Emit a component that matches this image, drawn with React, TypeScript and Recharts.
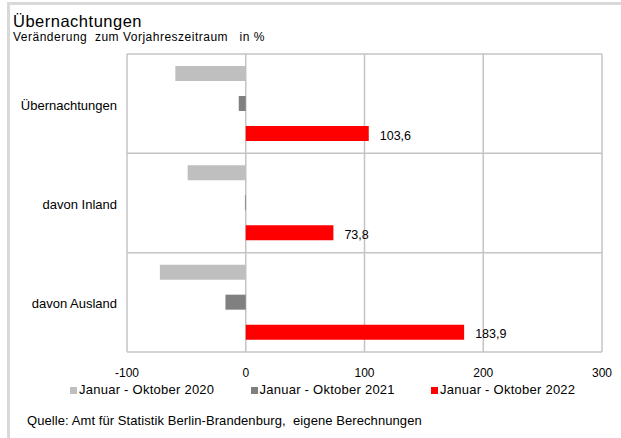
import { Bar, BarChart, CartesianGrid, LabelList, Legend, XAxis, YAxis } from "recharts";

const CATEGORIES = ["Übernachtungen", "davon Inland", "davon Ausland"];
const SERIES_NAMES = ["Januar - Oktober 2020", "Januar - Oktober 2021", "Januar - Oktober 2022"];
const JAN_OKT_2020 = [-59.3, -48.9, -72.3];
const JAN_OKT_2021 = [-5.9, -0.7, -17.1];
const JAN_OKT_2022 = [103.6, 73.8, 183.9];
const X_TICKS = [-100, 0, 100, 200, 300];

const COLORS = ["#bfbfbf", "#808080", "#ff0000"];
const GRID = "#c4c4c4";
const FONT = '"Liberation Sans", Arial, sans-serif';

const data = CATEGORIES.map((name, i) => ({
  name,
  y2020: JAN_OKT_2020[i],
  y2021: JAN_OKT_2021[i],
  y2022: JAN_OKT_2022[i],
}));

const fmt = (v: number) => String(v).replace(".", ",");

function LegendRow({ payload }: any) {
  return (
    <div style={{ display: "flex", paddingLeft: 70, fontSize: 13, lineHeight: "16px", letterSpacing: 0.25, color: "#000" }}>
      {(payload ?? []).map((p: any) => (
        <div key={p.value} style={{ display: "flex", alignItems: "center", width: 180.5, flex: "none" }}>
          <span style={{ width: 7, height: 7, background: p.color, marginRight: 2 }} />
          <span>{p.value}</span>
        </div>
      ))}
    </div>
  );
}

function CategoryTick({ x, y, payload }: any) {
  return (
    <text x={x} y={y + 1.5} textAnchor="end" dominantBaseline="central" fontSize={13} fill="#000">
      {payload.value}
    </text>
  );
}

function ValueLabel({ x, y, width, height, value }: any) {
  return (
    <text x={x + width + 11} y={y + height / 2 + 2} dominantBaseline="central" fontSize={12.5} fill="#000">
      {fmt(value)}
    </text>
  );
}

export default function App() {
  return (
    <div style={{ position: "absolute", left: 0, top: 0, width: 621, height: 438, background: "#fff", fontFamily: FONT, color: "#000", overflow: "hidden" }}>
      {/* grauer Rahmen oben/links */}
      <div style={{ position: "absolute", left: 7, top: 2, width: 620, height: 440, borderTop: "3px solid #d9d9d9", borderLeft: "3px solid #d9d9d9" }} />
      <div style={{ position: "absolute", left: 13, top: 10.8, fontSize: 16.5, lineHeight: "20px", letterSpacing: 0.5 }}>
        Übernachtungen
      </div>
      <div style={{ position: "absolute", left: 13, top: 29.5, fontSize: 12, lineHeight: "14px", letterSpacing: 0.5, whiteSpace: "pre" }}>
        {"Veränderung  zum Vorjahreszeitraum   in %"}
      </div>
      <div style={{ position: "absolute", left: 0, top: 0 }}>
        <BarChart
          width={621}
          height={438}
          data={data}
          layout="vertical"
          barSize={15}
          barGap={15}
          margin={{ top: 54, right: 19, left: 0, bottom: 56 }}
        >
          <CartesianGrid
            stroke={GRID}
            strokeWidth={1.5}
            horizontalCoordinatesGenerator={({ offset }: any) =>
              Array.from({ length: CATEGORIES.length + 1 }, (_, i) => offset.top + (offset.height * i) / CATEGORIES.length)
            }
          />
          <XAxis
            type="number"
            domain={[-100, 300]}
            ticks={X_TICKS}
            axisLine={false}
            tickLine={false}
            tickMargin={10}
            height={30}
            tick={{ fontSize: 12, fill: "#000" }}
          />
          <YAxis
            type="category"
            dataKey="name"
            width={127}
            axisLine={false}
            tickLine={false}
            tickMargin={4}
            tick={<CategoryTick />}
          />
          <Legend
            layout="horizontal"
            verticalAlign="middle"
            align="center"
            wrapperStyle={{ left: 0, top: 382, width: 621 }}
            content={<LegendRow />}
          />
          <Bar dataKey="y2020" name={SERIES_NAMES[0]} fill={COLORS[0]} isAnimationActive={false} />
          <Bar dataKey="y2021" name={SERIES_NAMES[1]} fill={COLORS[1]} isAnimationActive={false} />
          <Bar dataKey="y2022" name={SERIES_NAMES[2]} fill={COLORS[2]} isAnimationActive={false}>
            <LabelList dataKey="y2022" content={<ValueLabel />} />
          </Bar>
        </BarChart>
      </div>
      <div style={{ position: "absolute", left: 27, top: 412.5, fontSize: 13, lineHeight: "16px", letterSpacing: 0.08, whiteSpace: "pre" }}>
        {"Quelle: Amt für Statistik Berlin-Brandenburg,  eigene Berechnungen"}
      </div>
    </div>
  );
}
